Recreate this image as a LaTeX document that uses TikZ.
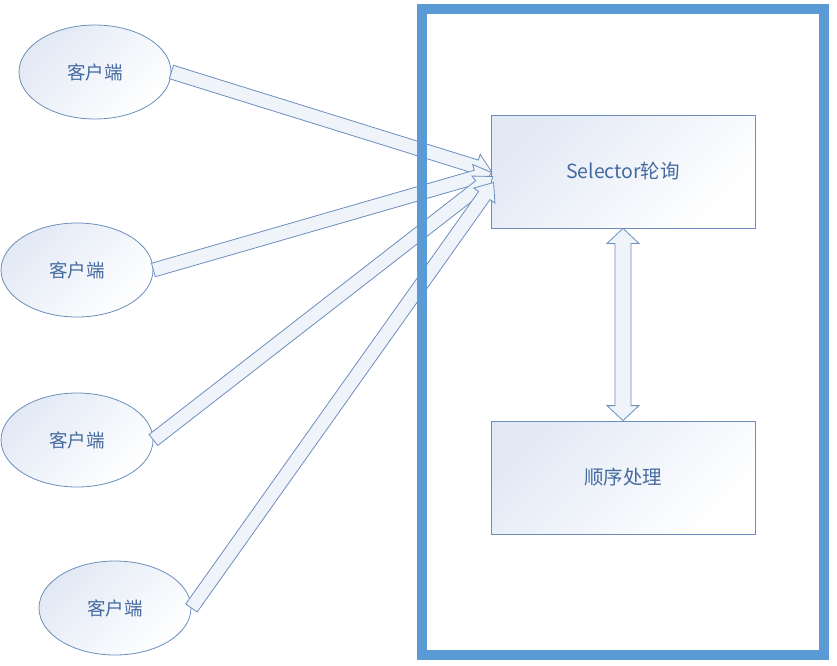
\documentclass[tikz,border=0pt]{standalone}
\usepackage{fontspec}
\usepackage{tikz}
\usetikzlibrary{shapes.geometric, calc}
\newfontfamily\cjk{Noto Sans CJK SC}
\definecolor{edgeblue}{RGB}{108, 142, 188}
\definecolor{textblue}{RGB}{68, 106, 160}
\definecolor{paleblue}{RGB}{226, 233, 245}
\definecolor{frameblue}{RGB}{91, 155, 213}

\tikzset{
  softfill/.style={top color=paleblue, bottom color=white, shading angle=45},
  client/.style={ellipse, draw=edgeblue, line width=0.8pt, softfill, minimum width=152pt, minimum height=94pt,
    inner sep=0pt, text=textblue, font=\cjk\fontsize{18.5}{22}\selectfont},
  stage/.style={rectangle, draw=edgeblue, line width=0.8pt, softfill, minimum width=264pt, minimum height=113pt,
    inner sep=0pt, text=textblue, font=\cjk\fontsize{19.5}{23}\selectfont},
  blockarr/.style={draw=edgeblue, line width=0.8pt, fill=paleblue!55, line join=miter},
  outerframe/.style={draw=frameblue, line width=10pt},
}

% hollow block arrow from #1 to #2
\newcommand\blockarrow[2]{%
  \path[blockarr] let \p1=($(#2)-(#1)$), \n1={atan2(\y1,\x1)}, \n2={veclen(\x1,\y1)} in
    {[shift={(#1)}, rotate=\n1]
      (0pt,7pt) -- ({\n2-16pt},7pt) -- ({\n2-16pt},13pt) -- ({\n2+0pt},0pt)
      -- ({\n2-16pt},-13pt) -- ({\n2-16pt},-7pt) -- (0pt,-7pt) -- cycle};
}

\begin{document}
\begin{tikzpicture}[x=1pt, y=-1pt]
  \useasboundingbox (0,0) rectangle (837,665);

  % clients
  \node[client] (c1) at (95,72) {客户端};
  \node[client] (c2) at (77,270) {客户端};
  \node[client] (c3) at (77,440) {客户端};
  \node[client] (c4) at (115,608) {客户端};

  % server side
  \node[stage] (sel) at (623,171.5) {Selector轮询};
  \node[stage] (proc) at (623,477.5) {顺序处理};

  \coordinate (t1) at ($(sel.west)+(1,0)$);
  \coordinate (t2) at ($(sel.west)+(1,1)$);
  \coordinate (t3) at ($(sel.west)+(2,5)$);
  \coordinate (t4) at ($(sel.west)+(3,11)$);

  \blockarrow{c1.east}{t1}
  \blockarrow{c2.east}{t2}
  \blockarrow{c3.east}{t3}
  \blockarrow{c4.east}{t4}

  % two-way arrow
  \path[blockarr] (sel.south) -- ([shift={(16,15)}]sel.south) -- ([shift={(8,15)}]sel.south)
    -- ([shift={(8,-15)}]proc.north) -- ([shift={(16,-15)}]proc.north) -- (proc.north)
    -- ([shift={(-16,-15)}]proc.north) -- ([shift={(-8,-15)}]proc.north)
    -- ([shift={(-8,15)}]sel.south) -- ([shift={(-16,15)}]sel.south) -- cycle;

  \draw[outerframe] (422,9) rectangle (824,655);
\end{tikzpicture}
\end{document}
